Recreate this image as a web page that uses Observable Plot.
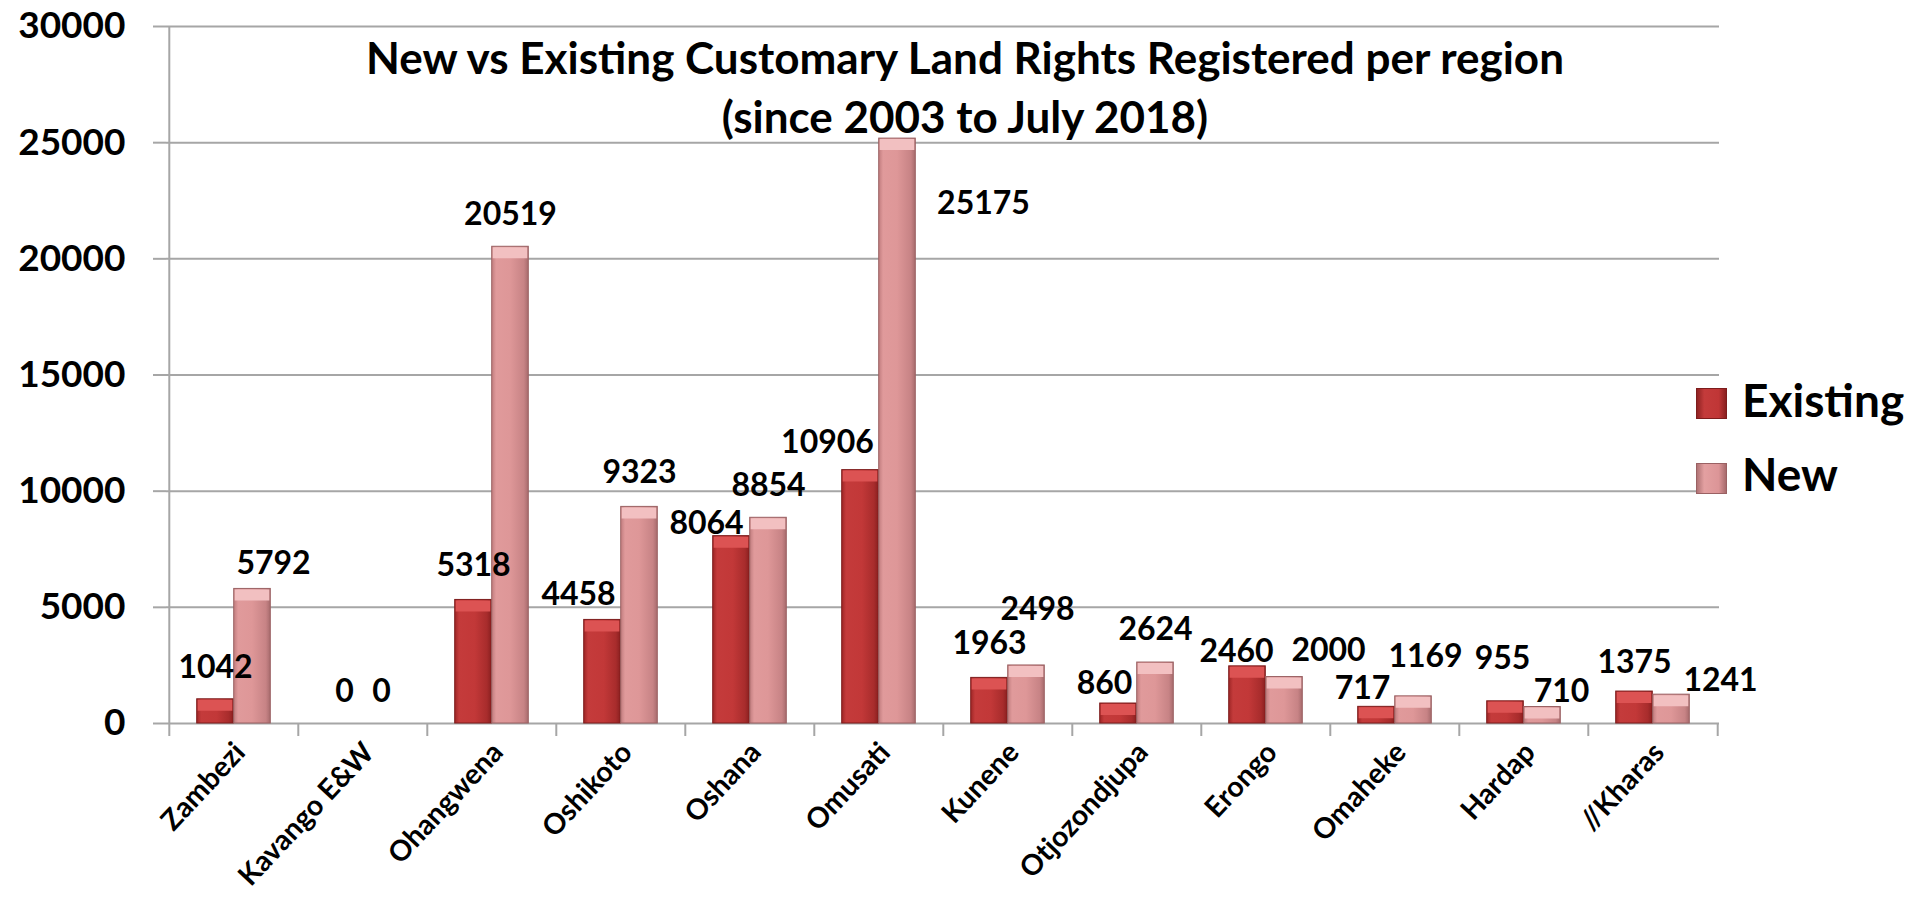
<!DOCTYPE html>
<html>
<head>
<meta charset="utf-8">
<script src="https://cdn.jsdelivr.net/npm/d3@7"></script>
<script src="https://cdn.jsdelivr.net/npm/@observablehq/plot@0.6"></script>
<style>
  html, body { margin: 0; padding: 0; background: #ffffff; }
  #wrap { position: relative; width: 1929px; height: 898px; font-family: Lato, "Open Sans", sans-serif; color: #000; }
  .title { position: absolute; left: 0; width: 1930px; text-align: center; font-weight: bold; font-size: 44px; line-height: 44px; white-space: nowrap; }
  .lg-sw { position: absolute; width: 31px; height: 31px; box-sizing: border-box; }
  .lg-tx { position: absolute; font-weight: bold; font-size: 46px; line-height: 46px; white-space: nowrap; }
</style>
</head>
<body>
<div id="wrap"></div>
<script>
// ---------------- data ----------------
const regions = ["Zambezi", "Kavango E&W", "Ohangwena", "Oshikoto", "Oshana", "Omusati",
                 "Kunene", "Otjozondjupa", "Erongo", "Omaheke", "Hardap", "//Kharas"];
const existing = [1042, 0, 5318, 4458, 8064, 10906, 1963, 860, 2460, 717, 955, 1375];
const newRights = [5792, 0, 20519, 9323, 8854, 25175, 2498, 2624, 2000, 1169, 710, 1241];
const seriesNames = ["Existing", "New"];
const yTicks = [0, 5000, 10000, 15000, 20000, 25000, 30000];
const titleLines = ["New vs Existing Customary Land Rights Registered per region", "(since 2003 to July 2018)"];

// label nudges (pixels) replicating the hand-placed data labels
const existingLabelDx = [0, 0, 0, -24, -25, -33, 0, -14, -11, -14, -3, 0];
const existingLabelDy = [0, 0, -2, 7, 20, 5, -2, 12, 17, 14, -11, 3];
const newLabelDx = [21, 0, 0, 0, 0, 86, 11, 0, 44, 12, 19, 49];
const newLabelDy = [7, 0, 0, -2, 0, 97, -24, -1, 6, -8, 17, 18];

// ---------------- layout ----------------
const W = 1929, H = 898;
const mLeft = 166, mRight = 210, mTop = 26, mBottom = 175;
const bw = (W - mLeft - mRight) / regions.length;
const barW = 37;
const outer = (bw - 2 * barW) / 2;
const gridColor = "#a6a6a6";

const existingRows = regions.map((r, i) => ({region: r, value: existing[i]}));
const newRows = regions.map((r, i) => ({region: r, value: newRights[i]}));

function nudge(dxs, dys) {
  return (index, scales, values, dimensions, context, next) => {
    const x = values.x ? Float64Array.from(values.x, (v, i) => v + dxs[i]) : values.x;
    const y = values.y ? Float64Array.from(values.y, (v, i) => v + dys[i]) : values.y;
    return next(index, scales, {...values, x, y}, dimensions, context);
  };
}

const labelStyle = {fontSize: 32, fontWeight: "bold", fill: "#000", lineAnchor: "middle", textAnchor: "middle"};

const chart = Plot.plot({
  width: W,
  height: H,
  marginLeft: mLeft,
  marginRight: mRight,
  marginTop: mTop,
  marginBottom: mBottom,
  style: {fontFamily: "Lato, 'Open Sans', sans-serif", background: "transparent", overflow: "visible"},
  x: {type: "band", domain: regions, padding: 0},
  y: {domain: [0, 30000]},
  marks: [
    Plot.gridY({ticks: yTicks, stroke: gridColor, strokeOpacity: 1, strokeWidth: 2}),
    Plot.ruleX([regions[0]], {x: d => d, dx: -bw / 2, stroke: gridColor, strokeWidth: 2}),
    Plot.axisY({ticks: yTicks, tickSize: 13, tickPadding: 28, stroke: gridColor, strokeWidth: 2,
                fill: "#000", fontSize: 37, fontWeight: "bold", label: null, tickFormat: d => String(d)}),
    Plot.axisX({tickSize: 13, dx: -bw / 2, stroke: gridColor, strokeWidth: 2, fill: "none", label: null}),
    Plot.axisX({ticks: [regions[regions.length - 1]], tickSize: 13, dx: bw / 2, stroke: gridColor, strokeWidth: 2, fill: "none", label: null}),
    Plot.axisX({tickSize: 0, tickPadding: 24, tickRotate: -47, dx: 6, fontSize: 28.5, fontWeight: "bold", fill: "#000", label: null}),
    // bars
    Plot.barY(existingRows, {x: "region", y: "value", insetLeft: outer, insetRight: outer + barW,
                             fill: "url(#gradExisting)", stroke: "#7d1c1c", strokeWidth: 1}),
    Plot.barY(newRows, {x: "region", y: "value", insetLeft: outer + barW, insetRight: outer,
                        fill: "url(#gradNew)", stroke: "#9a6163", strokeWidth: 1}),
    // bevel caps
    Plot.tickY(existingRows.filter(d => d.value > 0), {x: "region", y: "value", dy: 6, strokeWidth: 11,
                insetLeft: outer + 1, insetRight: outer + barW + 1, stroke: "#dc5353"}),
    Plot.tickY(newRows.filter(d => d.value > 0), {x: "region", y: "value", dy: 6, strokeWidth: 11,
                insetLeft: outer + barW + 1, insetRight: outer + 1, stroke: "#f2c0c1"}),
    // data labels
    Plot.text(existingRows, {x: "region", y: "value", text: d => String(d.value), dx: -barW / 2, dy: -32,
                             ...labelStyle, render: nudge(existingLabelDx, existingLabelDy)}),
    Plot.text(newRows, {x: "region", y: "value", text: d => String(d.value), dx: barW / 2, dy: -32,
                        ...labelStyle, render: nudge(newLabelDx, newLabelDy)})
  ]
});

// gradients for the bevelled bar look
const ns = "http://www.w3.org/2000/svg";
const defs = document.createElementNS(ns, "defs");
function grad(id, stops) {
  const g = document.createElementNS(ns, "linearGradient");
  g.setAttribute("id", id);
  g.setAttribute("x1", "0"); g.setAttribute("x2", "1"); g.setAttribute("y1", "0"); g.setAttribute("y2", "0");
  for (const [o, c] of stops) {
    const s = document.createElementNS(ns, "stop");
    s.setAttribute("offset", o); s.setAttribute("stop-color", c);
    g.appendChild(s);
  }
  defs.appendChild(g);
}
grad("gradExisting", [["0", "#9e2626"], ["0.12", "#c43b3b"], ["0.55", "#c23838"], ["0.88", "#a82c2c"], ["1", "#8a2020"]]);
grad("gradNew", [["0", "#c07c7e"], ["0.12", "#e09a9b"], ["0.5", "#de9798"], ["0.88", "#c78385"], ["1", "#a76b6d"]]);
chart.insertBefore(defs, chart.firstChild);

const wrap = document.getElementById("wrap");
wrap.appendChild(chart);
chart.style.position = "absolute";
chart.style.left = "0px";
chart.style.top = "0px";

// title
[[titleLines[0], 35], [titleLines[1], 94]].forEach(([t, top]) => {
  const d = document.createElement("div");
  d.className = "title";
  d.style.top = top + "px";
  d.textContent = t;
  wrap.appendChild(d);
});

// legend
const legendColors = {
  Existing: "linear-gradient(90deg, #8f2222, #c43b3b 25%, #c03636 75%, #8a2020)",
  New: "linear-gradient(90deg, #b07375, #e3a0a1 25%, #dc9597 75%, #a76b6d)"
};
seriesNames.forEach((s, i) => {
  const sw = document.createElement("div");
  sw.className = "lg-sw";
  sw.style.left = "1696px";
  sw.style.top = (388 + i * 75) + "px";
  sw.style.background = legendColors[s];
  sw.style.border = "1px solid " + (i === 0 ? "#7d1c1c" : "#9a6163");
  wrap.appendChild(sw);
  const tx = document.createElement("div");
  tx.className = "lg-tx";
  tx.style.left = "1742px";
  tx.style.top = (377 + i * 74) + "px";
  tx.textContent = s;
  wrap.appendChild(tx);
});
</script>
</body>
</html>
